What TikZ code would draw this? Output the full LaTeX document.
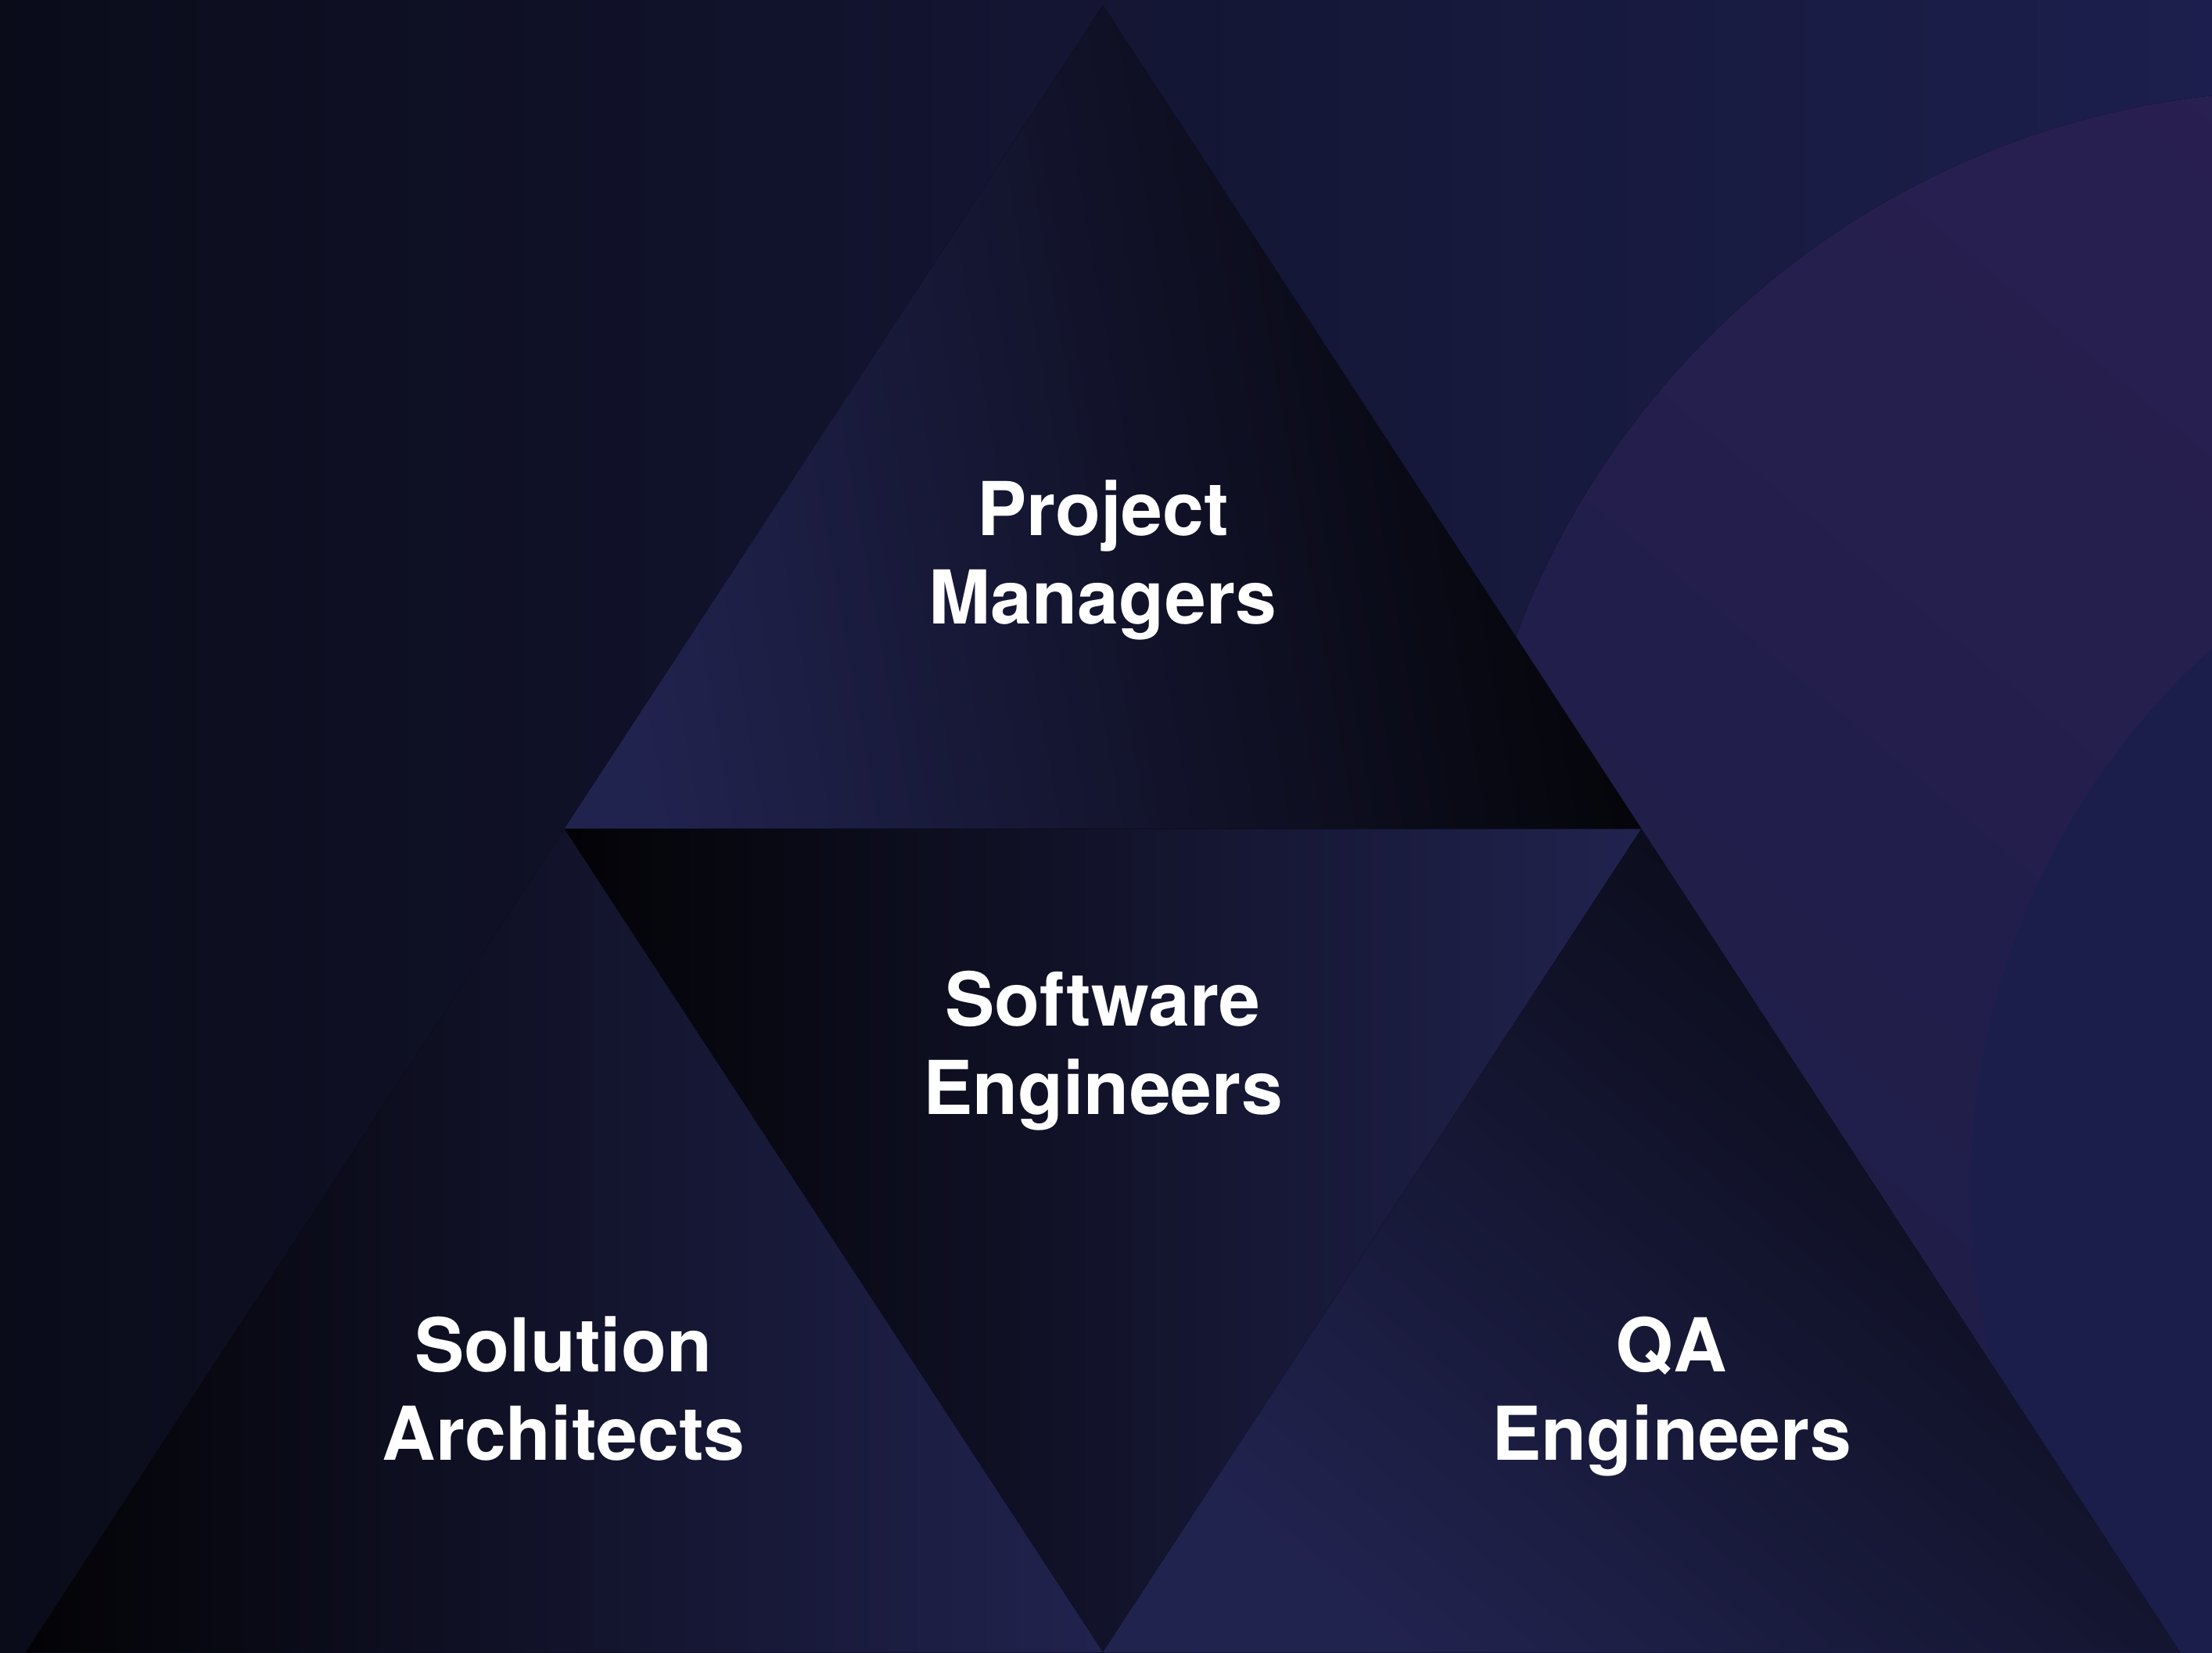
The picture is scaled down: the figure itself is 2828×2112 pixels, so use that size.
\documentclass[tikz,border=0pt]{standalone}
\usepackage{fontspec}
\setmainfont{TeX Gyre Heros}
\usetikzlibrary{calc}
\definecolor{bgL}{HTML}{0B0C1A}
\definecolor{bgM}{HTML}{141536}
\definecolor{bgR}{HTML}{1C1F4D}
\definecolor{purpA}{HTML}{2A2052}
\definecolor{purpM}{HTML}{221C47}
\definecolor{purpB}{HTML}{1D1D47}
\definecolor{blueC}{HTML}{1B1D4A}
\definecolor{triBlue}{HTML}{21234F}
\definecolor{triBlack}{HTML}{030306}
\definecolor{triDark}{HTML}{080914}
\tikzset{
  lbl/.style={text=white, inner sep=0pt, anchor=base,
    font=\fontsize{27}{32.4}\selectfont\bfseries},
  tri/.style={draw=none}
}
\newcommand{\twolines}[2]{\begin{tabular}[t]{@{}c@{}}#1\\#2\end{tabular}}
\begin{document}
\begin{tikzpicture}[x=0.01cm, y=-0.01cm]
  \useasboundingbox (0,0) rectangle (2828,2112);
  \clip (0,0) rectangle (2828,2112);
  % background
  \fill[left color=bgL, middle color=bgM, right color=bgR] (0,0) rectangle (2828,2112);
  % purple disc
  \fill[top color=purpA, middle color=purpM, bottom color=purpB, shading angle=-40] (2945,1191) circle (1075);
  % bluer disc
  \fill[blueC] (3450,1520) circle (930);
  % vertices
  \coordinate (A) at (1410,7);
  \coordinate (L) at (721.5,1059.5);
  \coordinate (R) at (2098.5,1059.5);
  \coordinate (BL) at (33,2112);
  \coordinate (BM) at (1410,2112);
  \coordinate (BR) at (2787,2112);
  % top triangle
  \fill[tri, top color=triBlue, bottom color=triBlack, shading angle=100] (A) -- (L) -- (R) -- cycle;
  % middle inverted triangle
  \fill[tri, left color=triBlack, right color=triBlue] (L) -- (R) -- (BM) -- cycle;
  % bottom-left triangle
  \fill[tri, left color=triBlack, right color=triBlue] (L) -- (BL) -- (BM) -- cycle;
  % bottom-right triangle
  \fill[tri, top color=triBlue, bottom color=triDark, shading angle=140] (R) -- (BM) -- (BR) -- cycle;
  % labels
  \node[lbl] (pm) at (1410,684) {\twolines{Project}{Managers}};
  \node[lbl] (se) at (1410,1311) {\twolines{Software}{Engineers}};
  \node[lbl] (sa) at (720.5,1753) {\twolines{Solution}{Architects}};
  \node[lbl] (qa) at (2137,1753) {\twolines{QA}{Engineers}};
\end{tikzpicture}
\end{document}
